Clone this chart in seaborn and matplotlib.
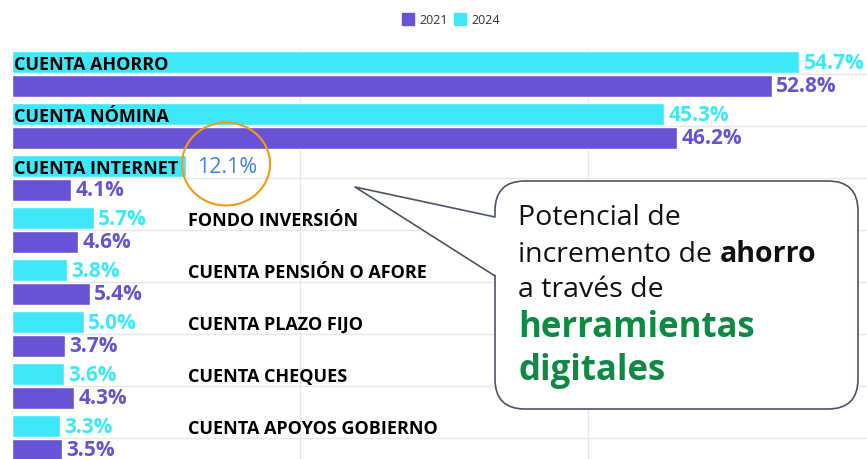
import numpy as np
import pandas as pd
import seaborn as sns
import matplotlib.pyplot as plt
from matplotlib.patches import Patch, FancyBboxPatch, Polygon, Ellipse

categorias = ['CUENTA AHORRO', 'CUENTA NÓMINA', 'CUENTA INTERNET', 'FONDO INVERSIÓN',
              'CUENTA PENSIÓN O AFORE', 'CUENTA PLAZO FIJO', 'CUENTA CHEQUES',
              'CUENTA APOYOS GOBIERNO']
v2024 = [54.7, 45.3, 12.1, 5.7, 3.8, 5.0, 3.6, 3.3]
v2021 = [52.8, 46.2, 4.1, 4.6, 5.4, 3.7, 4.3, 3.5]
anios = ['2021', '2024']

cyan = '#3fe8f8'
morado = '#6852d6'
verde = '#0e8a44'

df = pd.DataFrame({
    'cat': categorias * 2,
    'anio': ['2024'] * len(categorias) + ['2021'] * len(categorias),
    'val': v2024 + v2021,
})

sns.set_style('white')
plt.rcParams['font.family'] = ['Open Sans', 'DejaVu Sans']

fig = plt.figure(figsize=(8.67, 4.6), dpi=100)
W, H = 867, 460
ax = fig.add_axes([12 / W, 0, 1 - 12 / W, (460 - 49) / H])

sns.barplot(data=df, y='cat', x='val', hue='anio', hue_order=['2024', '2021'],
            palette={'2024': cyan, '2021': morado}, orient='h', width=0.9, gap=0.06,
            legend=False, ax=ax, saturation=1)

ax.set_xlim(0, 59.4)
ax.set_ylim(-0.5 + (460 - 49) / 52, -0.5)
ax.set_xticks([0, 20, 40])
ax.set_yticks(range(len(categorias)))
ax.grid(True, color='#e8e8e8', lw=1)
ax.set_axisbelow(True)
ax.tick_params(left=False, bottom=False, labelleft=False, labelbottom=False)
ax.set_xlabel('')
ax.set_ylabel('')
for s in ax.spines.values():
    s.set_visible(False)

# etiquetas de valores y categorias
for cont, col in zip(ax.containers, [cyan, morado]):
    for i, bar in enumerate(cont):
        v = bar.get_width()
        yc = bar.get_y() + bar.get_height() / 2
        if col == cyan and categorias[i] == 'CUENTA INTERNET':
            ax.text(v + 0.75, yc, f'{v:.1f}%', color='#3f84e8', fontsize=15.5,
                    va='center', ha='left', zorder=6,
                    bbox=dict(facecolor='white', edgecolor='none', pad=1))
        else:
            ax.text(v + 0.3, yc, f'{v:.1f}%', color=col, fontsize=15,
                    fontweight='bold', va='center', ha='left')
        if col == cyan:
            xl = 0.15 if v > 12 else 12.2
            ax.text(xl, yc + 0.03, categorias[i], color='black', fontsize=13,
                    fontweight='bold', va='center', ha='left', zorder=5)

# leyenda
handles = [Patch(color=morado), Patch(color=cyan)]
fig.legend(handles, anios, loc='upper center', bbox_to_anchor=(0.52, 0.995), ncol=2,
           frameon=False, fontsize=9, handlelength=1.0, handleheight=1.2,
           handletextpad=0.4, columnspacing=0.5, labelcolor='#333333')

# capa de anotaciones en pixeles
ov = fig.add_axes([0, 0, 1, 1], zorder=10)
ov.set_xlim(0, W)
ov.set_ylim(H, 0)
ov.axis('off')
ov.patch.set_alpha(0)

ov.add_patch(Ellipse((226, 165), 88, 83, fill=False, edgecolor='#f39a12', lw=1.5))

caja = FancyBboxPatch((495, 182), 363, 228, boxstyle='round,pad=0,rounding_size=30',
                      facecolor='white', edgecolor='#4a5568', lw=1.2)
ov.add_patch(caja)
ov.add_patch(Polygon([(355, 188), (497, 218), (497, 277)], closed=True,
                     facecolor='white', edgecolor='none'))
ov.plot([495, 355, 495], [218, 188, 277], color='#4a5568', lw=1.2)

ov.text(518, 225, 'Potencial de', fontsize=20.5, va='baseline', color='#111111')
t1 = ov.text(518, 262, 'incremento de ', fontsize=20.5, va='baseline', color='#111111')
ov.text(518, 297, 'a través de', fontsize=20.5, va='baseline', color='#111111')
ov.text(518, 337, 'herramientas', fontsize=25, fontweight='bold', va='baseline', color=verde)
ov.text(518, 380, 'digitales', fontsize=25, fontweight='bold', va='baseline', color=verde)

fig.canvas.draw()
bb = t1.get_window_extent(fig.canvas.get_renderer())
ov.text(bb.x1, 262, 'ahorro', fontsize=20.5, fontweight='bold', va='baseline', color='#111111')

fig.savefig('out.png', dpi=100)
